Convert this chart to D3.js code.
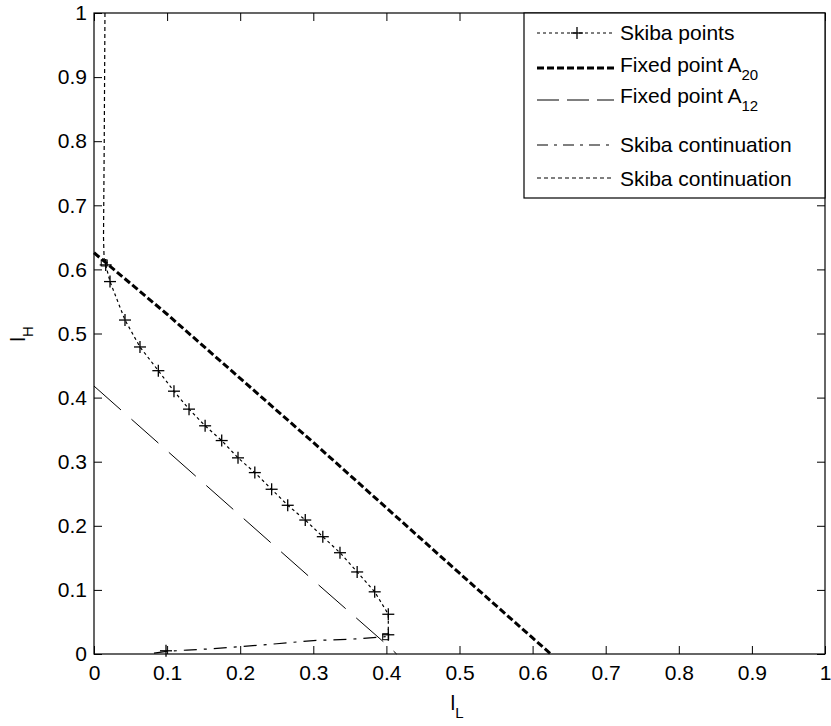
<!DOCTYPE html>
<html>
<head>
<meta charset="utf-8">
<script src="https://cdn.jsdelivr.net/npm/d3@7"></script>
<style>
  html, body { margin: 0; padding: 0; background: #fff; }
  svg { display: block; }
  text { font-family: "Liberation Sans", Arial, sans-serif; fill: #000; }
</style>
</head>
<body>
<svg id="chart" width="831" height="726"></svg>
<script>
// ---------------- data ----------------
const tickValues = [0, 0.1, 0.2, 0.3, 0.4, 0.5, 0.6, 0.7, 0.8, 0.9, 1];
const tickLabels = ["0", "0.1", "0.2", "0.3", "0.4", "0.5", "0.6", "0.7", "0.8", "0.9", "1"];

// Skiba points (l_L, l_H)
const skibaX = [0.016, 0.0219, 0.0424, 0.0629, 0.088, 0.1094, 0.130, 0.152, 0.1747, 0.197, 0.220, 0.243, 0.265, 0.289, 0.313, 0.3365, 0.360, 0.384, 0.4026, 0.4026];
const skibaY = [0.607, 0.581, 0.521, 0.479, 0.442, 0.410, 0.382, 0.356, 0.333, 0.306, 0.283, 0.257, 0.232, 0.209, 0.183, 0.158, 0.128, 0.097, 0.062, 0.030];
const skibaExtraX = [0.0985];
const skibaExtraY = [0.005];

// Fixed point A20
const a20X = [0, 0.1, 0.2, 0.3, 0.4, 0.5, 0.6, 0.625];
const a20Y = [0.626, 0.53, 0.43, 0.33, 0.228, 0.126, 0.025, 0];

// Fixed point A12
const a12X = [0, 0.1, 0.2, 0.3, 0.4, 0.414];
const a12Y = [0.418, 0.317, 0.216, 0.115, 0.015, 0];

// Skiba continuation (dash-dot)
const cont1X = [0.082, 0.1, 0.127, 0.16, 0.2, 0.25, 0.3, 0.35, 0.399];
const cont1Y = [0.0015, 0.004, 0.0062, 0.008, 0.0114, 0.016, 0.021, 0.023, 0.027];

// Skiba continuation (dotted)
const cont2X = [0.015, 0.014, 0.013, 0.014];
const cont2Y = [1.0, 0.8, 0.65, 0.61];

// end markers (squares) of continuation
const squareX = [0.399, 0.014];
const squareY = [0.027, 0.61];

const legendLabels = ["Skiba points", "Fixed point A", "Fixed point A", "Skiba continuation", "Skiba continuation"];
const legendSubs = ["", "20", "12", "", ""];

// ---------------- layout ----------------
const svg = d3.select("#chart");
const L = 94, R = 825, T = 13, B = 654;
const x = d3.scaleLinear().domain([0, 1]).range([L, R]);
const y = d3.scaleLinear().domain([0, 1]).range([B, T]);
const FS = 21;

const zip = (xs, ys) => xs.map((v, i) => [v, ys[i]]);
const line = d3.line().x(d => x(d[0])).y(d => y(d[1]));

// axes
const fmt = (d) => tickLabels[tickValues.indexOf(d)];
const gB = svg.append("g").attr("transform", `translate(0,${B})`)
  .call(d3.axisBottom(x).tickValues(tickValues).tickFormat(fmt).tickSizeInner(-8).tickSizeOuter(0).tickPadding(11));
const gLf = svg.append("g").attr("transform", `translate(${L},0)`)
  .call(d3.axisLeft(y).tickValues(tickValues).tickFormat(fmt).tickSizeInner(-8).tickSizeOuter(0).tickPadding(7));
const gT = svg.append("g").attr("transform", `translate(0,${T})`)
  .call(d3.axisTop(x).tickValues(tickValues).tickFormat("").tickSizeInner(-8).tickSizeOuter(0));
const gR = svg.append("g").attr("transform", `translate(${R},0)`)
  .call(d3.axisRight(y).tickValues(tickValues).tickFormat("").tickSizeInner(-8).tickSizeOuter(0));
[gB, gLf, gT, gR].forEach(g => {
  g.selectAll(".domain").remove();
  g.selectAll("line").attr("stroke", "#000").attr("stroke-width", 1);
  g.selectAll("text").style("font-size", FS + "px").style("font-family", "'Liberation Sans', Arial, sans-serif").attr("fill", "#000");
});

// plot box
svg.append("rect").attr("x", L).attr("y", T).attr("width", R - L).attr("height", B - T)
  .attr("fill", "none").attr("stroke", "#000").attr("stroke-width", 1.2);

// series
const plot = svg.append("g");
plot.append("path").datum(zip(a20X, a20Y)).attr("d", line)
  .attr("fill", "none").attr("stroke", "#000").attr("stroke-width", 3).attr("stroke-dasharray", "7,3");
plot.append("path").datum(zip(a12X, a12Y)).attr("d", line)
  .attr("fill", "none").attr("stroke", "#000").attr("stroke-width", 1).attr("stroke-dasharray", "36,14");
plot.append("path").datum(zip(cont1X, cont1Y)).attr("d", line)
  .attr("fill", "none").attr("stroke", "#000").attr("stroke-width", 1.2).attr("stroke-dasharray", "13,7,3,7");
plot.append("path").datum(zip(cont2X, cont2Y)).attr("d", line)
  .attr("fill", "none").attr("stroke", "#000").attr("stroke-width", 1.2).attr("stroke-dasharray", "4,3");
plot.append("path").datum(zip(skibaX, skibaY)).attr("d", line)
  .attr("fill", "none").attr("stroke", "#000").attr("stroke-width", 1.2).attr("stroke-dasharray", "3,3");

const plus = (g, cx, cy, s) => {
  g.append("line").attr("x1", cx - s).attr("x2", cx + s).attr("y1", cy).attr("y2", cy).attr("stroke", "#000").attr("stroke-width", 1.3);
  g.append("line").attr("x1", cx).attr("x2", cx).attr("y1", cy - s).attr("y2", cy + s).attr("stroke", "#000").attr("stroke-width", 1.3);
};
zip(skibaX, skibaY).concat(zip(skibaExtraX, skibaExtraY)).forEach(d => plus(plot, x(d[0]), y(d[1]), 6));
zip(squareX, squareY).forEach(d => {
  plot.append("rect").attr("x", x(d[0]) - 3).attr("y", y(d[1]) - 3).attr("width", 6).attr("height", 6)
    .attr("fill", "none").attr("stroke", "#000").attr("stroke-width", 1);
});

// axis labels
const xl = svg.append("text").attr("x", 457).attr("y", 710).attr("text-anchor", "middle").style("font-size", FS + "px");
xl.append("tspan").text("l");
xl.append("tspan").attr("dy", 8).style("font-size", "15px").text("L");

const yl = svg.append("text").attr("transform", "translate(25,334) rotate(-90)").attr("text-anchor", "middle").style("font-size", FS + "px");
yl.append("tspan").text("l");
yl.append("tspan").attr("dy", 8).style("font-size", "15px").text("H");

// legend
const lg = svg.append("g");
lg.append("rect").attr("x", 524).attr("y", T).attr("width", R - 524).attr("height", 185)
  .attr("fill", "#fff").attr("stroke", "#000").attr("stroke-width", 1.2);
const lineY = [33, 68, 100, 145, 178];
const textY = [40, 72, 103, 152, 186];
const sampleStyles = [
  { w: 1.2, dash: "3,3" },
  { w: 3, dash: "7,3" },
  { w: 1, dash: "22,8" },
  { w: 1.2, dash: "11,6,3,6" },
  { w: 1.2, dash: "4,3" }
];
legendLabels.forEach((lab, i) => {
  lg.append("line").attr("x1", 537).attr("x2", 614).attr("y1", lineY[i]).attr("y2", lineY[i])
    .attr("stroke", "#000").attr("stroke-width", sampleStyles[i].w).attr("stroke-dasharray", sampleStyles[i].dash);
  if (i === 0) plus(lg, 577, lineY[i], 6);
  const t = lg.append("text").attr("x", 620).attr("y", textY[i]).style("font-size", FS + "px");
  t.append("tspan").text(lab);
  if (legendSubs[i]) t.append("tspan").attr("dy", 8).style("font-size", "15px").text(legendSubs[i]);
});
</script>
</body>
</html>
